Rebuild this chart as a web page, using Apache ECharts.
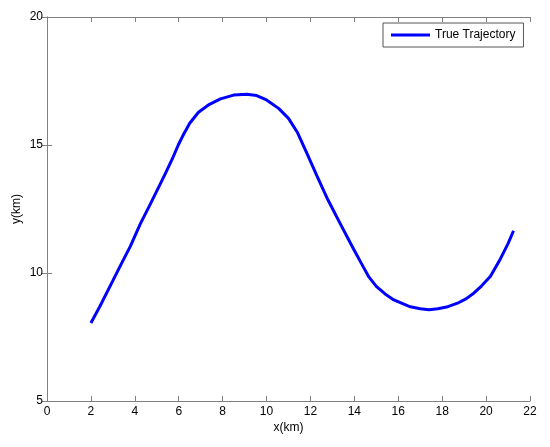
<!DOCTYPE html>
<html>
<head>
<meta charset="utf-8">
<script src="https://cdn.jsdelivr.net/npm/echarts@6/dist/echarts.min.js"></script>
<style>html,body{margin:0;padding:0;background:#fff;}#c{width:550px;height:447px;}</style>
</head>
<body>
<div id="c"></div>
<script>
var seriesName = 'True Trajectory';
var xKm = [2.0, 2.4, 3.0, 3.35, 3.8, 4.25, 4.7, 5.2, 5.4, 5.75, 5.98, 6.2, 6.5, 6.9, 7.4, 7.9, 8.5, 9.1, 9.55, 10.0, 10.55, 11.0, 11.4, 11.85, 12.3, 12.8, 13.35, 13.8, 14.0, 14.4, 14.65, 15.0, 15.4, 15.8, 16.2, 16.55, 17.0, 17.4, 17.8, 18.2, 18.7, 19.1, 19.45, 19.8, 20.2, 20.65, 21.0, 21.25];
var yKm = [8.05, 8.68, 9.70, 10.30, 11.05, 11.92, 12.68, 13.55, 13.90, 14.54, 15.00, 15.38, 15.85, 16.28, 16.59, 16.80, 16.95, 16.98, 16.93, 16.76, 16.43, 16.04, 15.50, 14.65, 13.78, 12.85, 11.94, 11.20, 10.88, 10.25, 9.86, 9.48, 9.18, 8.95, 8.80, 8.68, 8.60, 8.56, 8.60, 8.67, 8.82, 9.00, 9.22, 9.50, 9.87, 10.55, 11.15, 11.65];
var xTicks = [0, 2, 4, 6, 8, 10, 12, 14, 16, 18, 20, 22];
var yTicks = [5, 10, 15, 20];

var data = xKm.map(function (x, i) { return [x, yKm[i]]; });
var font = 'Liberation Sans, Arial, sans-serif';
var axisColor = '#808080';

function baseAxis(extra) {
  var o = {
    type: 'value',
    axisLine: { show: true, lineStyle: { color: axisColor, width: 1 } },
    axisTick: { show: true, inside: true, length: 5, lineStyle: { color: axisColor } },
    splitLine: { show: false },
    axisLabel: { color: '#000', fontFamily: font, fontSize: 12 }
  };
  for (var k in extra) o[k] = extra[k];
  return o;
}

var chart = echarts.init(document.getElementById('c'), null, { renderer: 'canvas' });
chart.setOption({
  animation: false,
  backgroundColor: '#fff',
  grid: { left: 47, top: 17, right: 20, bottom: 46, containLabel: false, outerBoundsMode: 'none' },
  legend: {
    data: [{ name: seriesName, icon: 'rect' }],
    left: 383, top: 23,
    padding: [6, 8, 6, 8],
    itemWidth: 39, itemHeight: 3, itemGap: 5,
    backgroundColor: '#fff',
    borderColor: '#555', borderWidth: 1, borderRadius: 0,
    textStyle: { color: '#000', fontFamily: font, fontSize: 12, padding: [0, 0, 0, 0] }
  },
  xAxis: [
    baseAxis({ min: xTicks[0], max: xTicks[xTicks.length - 1], interval: 2, position: 'bottom',
      name: 'x(km)', nameLocation: 'middle', nameGap: 21, nameMoveOverlap: false,
      nameTextStyle: { color: '#000', fontFamily: font, fontSize: 12 },
      axisLabel: { color: '#000', fontFamily: font, fontSize: 12, margin: 5 } }),
    baseAxis({ min: xTicks[0], max: xTicks[xTicks.length - 1], interval: 2, position: 'top',
      axisLabel: { show: false } })
  ],
  yAxis: [
    baseAxis({ min: yTicks[0], max: yTicks[yTicks.length - 1], interval: 5, position: 'left',
      name: 'y(km)', nameLocation: 'middle', nameGap: 24, nameMoveOverlap: false,
      nameTextStyle: { color: '#000', fontFamily: font, fontSize: 12 },
      axisLabel: { color: '#000', fontFamily: font, fontSize: 12, margin: 4 } }),
    baseAxis({ min: yTicks[0], max: yTicks[yTicks.length - 1], interval: 5, position: 'right',
      axisLabel: { show: false } })
  ],
  series: [{
    name: seriesName,
    type: 'line',
    data: data,
    showSymbol: false,
    symbol: 'none',
    smooth: false,
    lineStyle: { color: '#0000ff', width: 3 },
    itemStyle: { color: '#0000ff' }
  }]
});
</script>
</body>
</html>
